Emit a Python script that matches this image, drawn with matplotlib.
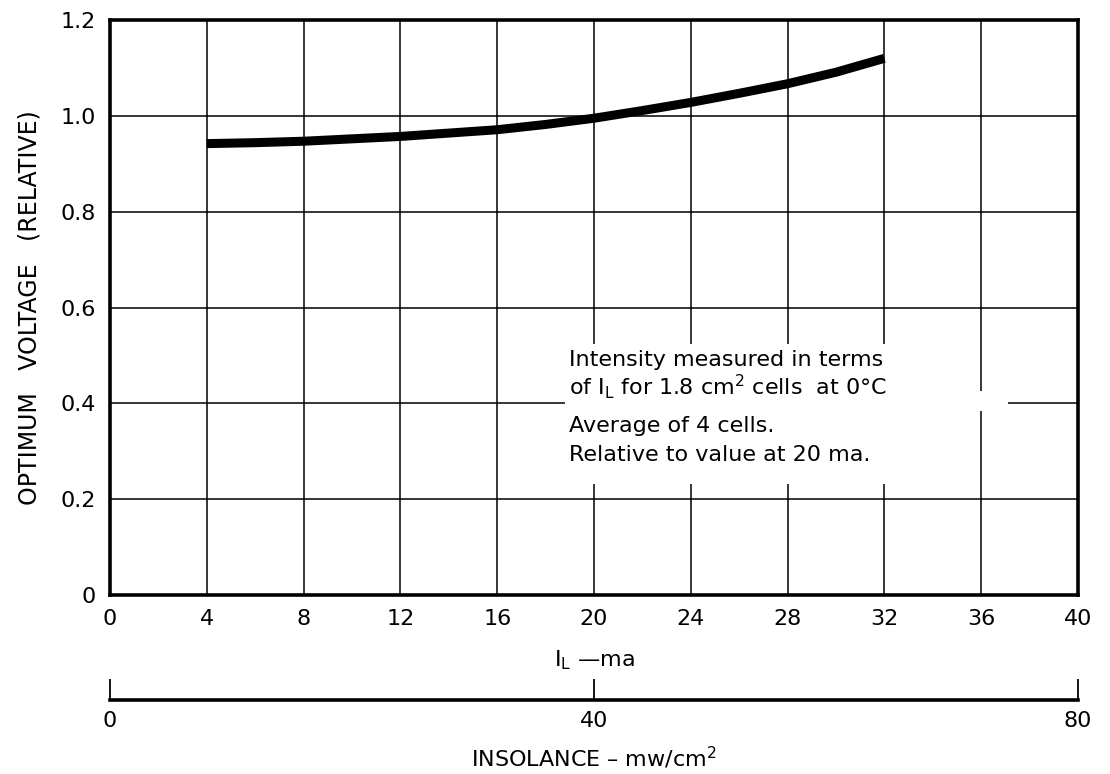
import matplotlib
matplotlib.use("Agg")
import matplotlib.pyplot as plt
from matplotlib.patches import Rectangle

plt.rcParams['font.family'] = ['DejaVu Sans']
plt.rcParams['mathtext.default'] = 'regular'

# Data
current_ma = [4, 6, 8, 10, 12, 14, 16, 18, 20, 22, 24, 26, 28, 30, 32]
voltage_rel = [0.942, 0.944, 0.947, 0.952, 0.957, 0.964, 0.971, 0.982, 0.995,
               1.011, 1.028, 1.047, 1.067, 1.091, 1.120]

x_ticks = [0, 4, 8, 12, 16, 20, 24, 28, 32, 36, 40]
x_ticklabels = ["0", "4", "8", "12", "16", "20", "24", "28", "32", "36", "40"]
y_ticks = [0, 0.2, 0.4, 0.6, 0.8, 1.0, 1.2]
y_ticklabels = ["0", "0.2", "0.4", "0.6", "0.8", "1.0", "1.2"]
ins_ticks = [0, 40, 80]
ins_ticklabels = ["0", "40", "80"]

notes = ["Intensity measured in terms",
         "of $I_L$ for 1.8 cm$^2$ cells  at 0°C",
         "Average of 4 cells.",
         "Relative to value at 20 ma."]
note_y = [0.490, 0.434, 0.353, 0.292]

W, H = 1110, 774
fig = plt.figure(figsize=(W / 100, H / 100), dpi=100)
left, right, top, bottom = 110 / W, 1078 / W, 1 - 20 / H, 1 - 595 / H
ax = fig.add_axes([left, bottom, right - left, top - bottom])

ax.set_xlim(0, 40)
ax.set_ylim(0, 1.2)
ax.set_xticks(x_ticks)
ax.set_xticklabels(x_ticklabels)
ax.set_yticks(y_ticks)
ax.set_yticklabels(y_ticklabels)
ax.tick_params(length=0, labelsize=16, pad=10)
ax.grid(True, color='black', linewidth=1.1)
ax.set_axisbelow(True)
for s in ax.spines.values():
    s.set_linewidth(2.6)

ax.plot(current_ma, voltage_rel, color='black', linewidth=6.5,
        solid_capstyle='butt', zorder=3)

# white area behind the note
ax.add_patch(Rectangle((18.8, 0.232), 17.1, 0.292, facecolor='white',
                       edgecolor='none', zorder=2))
ax.add_patch(Rectangle((35.9, 0.385), 1.2, 0.04, facecolor='white',
                       edgecolor='none', zorder=2))
for txt, yy in zip(notes, note_y):
    ax.text(18.95, yy, txt, fontsize=16, va='center', ha='left', zorder=4)

ax.set_ylabel("OPTIMUM   VOLTAGE   (RELATIVE)", fontsize=17, labelpad=14)
ax.set_xlabel("$I_L$ —ma", fontsize=16, labelpad=14)

# insolance scale
ax2 = fig.add_axes([left, 1 - 700 / H, right - left, 0.001])
ax2.set_xlim(0, 80)
ax2.set_ylim(0, 1)
for k in ['top', 'left', 'right']:
    ax2.spines[k].set_visible(False)
ax2.spines['bottom'].set_linewidth(2.6)
ax2.set_yticks([])
ax2.set_xticks(ins_ticks)
ax2.set_xticklabels(ins_ticklabels)
ax2.tick_params(axis='x', direction='in', length=15, width=1.3,
                labelsize=16, pad=8)
ax2.set_xlabel("INSOLANCE – mw/cm$^2$", fontsize=16, labelpad=10)

fig.savefig("out.png", dpi=100)
